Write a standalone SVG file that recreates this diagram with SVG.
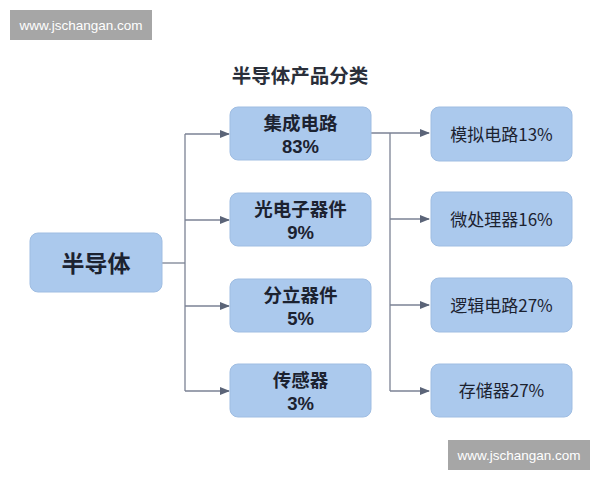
<svg xmlns="http://www.w3.org/2000/svg" width="600" height="480" viewBox="0 0 600 480">
<defs>
<marker id="arr" markerWidth="10" markerHeight="10" refX="9" refY="5" orient="auto" markerUnits="userSpaceOnUse">
<path d="M0,1 L10,5 L0,9 Z" fill="#5b6478"/>
</marker>
</defs>
<style>
.box{fill:#abc9ed;stroke:#9fbde2;stroke-width:1}
.t{font-family:"Noto Sans CJK SC","Liberation Sans",sans-serif;fill:#1c2230;text-anchor:middle}
.n{font-family:"Liberation Sans","Noto Sans CJK SC",sans-serif;fill:#1c2230;text-anchor:middle}
.b{font-weight:bold;font-size:18.5px}
.r{font-size:17px}
.wm{fill:#a6a6a6}
.wmt{font-family:"Liberation Sans",sans-serif;font-size:13.5px;fill:#ffffff;text-anchor:middle}
.ln{fill:none;stroke:#7b8294;stroke-width:1.3}
</style>
<rect width="600" height="480" fill="#ffffff"/>
<g id="watermark-top"><rect class="wm" x="10" y="10" width="142" height="30"/><text class="wmt" x="81" y="29.5">www.jschangan.com</text></g>
<text id="title" class="t" x="300" y="83" style="font-size:19.5px;font-weight:bold;fill:#2a2f3a">半导体产品分类</text>
<g id="connectors">
<path class="ln" d="M162,263 H185"/>
<path class="ln" d="M185,134 V391"/>
<path class="ln" d="M185,134 H229" marker-end="url(#arr)"/>
<path class="ln" d="M185,220 H229" marker-end="url(#arr)"/>
<path class="ln" d="M185,306 H229" marker-end="url(#arr)"/>
<path class="ln" d="M185,391 H229" marker-end="url(#arr)"/>
<path class="ln" d="M371,133 H429" marker-end="url(#arr)"/>
<path class="ln" d="M390,133 V391"/>
<path class="ln" d="M390,219 H429" marker-end="url(#arr)"/>
<path class="ln" d="M390,305 H429" marker-end="url(#arr)"/>
<path class="ln" d="M390,391 H429" marker-end="url(#arr)"/>
</g>
<g id="n-root"><rect class="box" x="30" y="233" width="132" height="59" rx="8"/><text class="t" x="96" y="272" style="font-size:23px;font-weight:bold">半导体</text></g>
<g id="n-ic"><rect class="box" x="230" y="107" width="141" height="53" rx="8"/><text class="t b" x="300.5" y="129.5">集成电路</text><text class="n b" x="300.5" y="153">83%</text></g>
<g id="n-opto"><rect class="box" x="230" y="193" width="141" height="53" rx="8"/><text class="t b" x="300.5" y="215.5">光电子器件</text><text class="n b" x="300.5" y="239">9%</text></g>
<g id="n-discrete"><rect class="box" x="230" y="279" width="141" height="53" rx="8"/><text class="t b" x="300.5" y="301.5">分立器件</text><text class="n b" x="300.5" y="325">5%</text></g>
<g id="n-sensor"><rect class="box" x="230" y="364" width="141" height="53" rx="8"/><text class="t b" x="300.5" y="386.5">传感器</text><text class="n b" x="300.5" y="410">3%</text></g>
<g id="n-analog"><rect class="box" x="431" y="107" width="141" height="54" rx="8"/><text class="t r" x="501.5" y="141">模拟电路13%</text></g>
<g id="n-micro"><rect class="box" x="431" y="192" width="141" height="54" rx="8"/><text class="t r" x="501.5" y="226">微处理器16%</text></g>
<g id="n-logic"><rect class="box" x="431" y="278" width="141" height="54" rx="8"/><text class="t r" x="501.5" y="312">逻辑电路27%</text></g>
<g id="n-memory"><rect class="box" x="431" y="364" width="141" height="53" rx="8"/><text class="t r" x="501.5" y="397">存储器27%</text></g>
<g id="watermark-bottom"><rect class="wm" x="448" y="440" width="142" height="30"/><text class="wmt" x="519" y="459.5">www.jschangan.com</text></g>
</svg>
